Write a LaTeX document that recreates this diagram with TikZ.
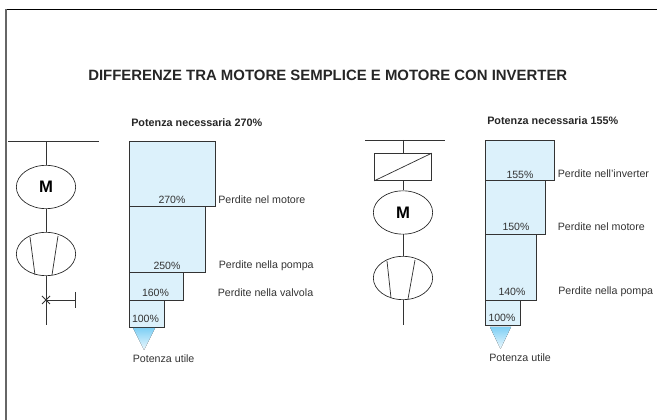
\documentclass[tikz,border=0pt]{standalone}
\usepackage{fontspec}
\setmainfont{Liberation Sans}
\usetikzlibrary{positioning,shapes.geometric}
\usepackage{xcolor}
\definecolor{boxfill}{HTML}{DCF1FB}
\definecolor{tipblue}{HTML}{7FD0F5}
\definecolor{inkgray}{HTML}{333333}

\begin{document}
\begin{tikzpicture}[%
            x=0.75pt, y=-0.75pt,
            lossbox/.style={draw=inkgray, fill=boxfill, line width=0.7pt, inner sep=0pt, anchor=north west},
            wire/.style={draw=inkgray, line width=0.55pt},
            machine/.style={ellipse, draw=black!85, line width=0.5pt, inner sep=0pt, minimum width=44.5pt, minimum height=32.5pt},
            lbl/.style={font=\fontsize{8}{10}\selectfont, text=inkgray, inner sep=0pt, anchor=west},
            pct/.style={font=\fontsize{7.9}{10}\selectfont, text=inkgray, inner sep=0pt},
            head/.style={font=\bfseries\fontsize{8.1}{10}\selectfont, text=black!85, inner sep=0pt, anchor=west},
            tip/.style={top color=tipblue, bottom color=boxfill!50, draw=none}
        ]
        \useasboundingbox (0,0) rectangle (657,420);

        % Outer frame
        \coordinate (framecorner) at (5.8,9.5);
        \coordinate (frametop) at (657,9.5);
        \coordinate (framebottom) at (5.8,420);
        \draw[black, line width=0.75pt] (framecorner) -- (frametop);
        \draw[black!60, line width=1.3pt] (framecorner) -- (framebottom);

        % Title
        \node[font=\bfseries\fontsize{11.2}{13}\selectfont, text=black!85, inner sep=0pt, anchor=west] (title) at (88,75) {DIFFERENZE TRA MOTORE SEMPLICE E MOTORE CON INVERTER};

        % Left schematic
        \coordinate (busLa) at (8,141.5);
        \coordinate (busLb) at (99,141.5);
        \coordinate (busLtap) at (46,141.5);
        \node[machine, font=\bfseries\fontsize{12.5}{14}\selectfont] (motorL) at (46,187) {M};
        \node[machine] (pumpL) at (46,254) {};
        \coordinate (pipeLend) at (46,325);
        \coordinate (valveL) at (46,300);
        \coordinate (valveLend) at (75,300);
        \coordinate (valveLup) at (75,292);
        \coordinate (valveLdown) at (75,308);
        \draw[wire] (busLa) -- (busLb);
        \draw[wire] (busLtap) -- (motorL);
        \draw[wire] (motorL) -- (pumpL);
        \draw[wire] (pumpL) -- (pipeLend);
        \draw[wire] (valveL) -- (valveLend);
        \draw[wire] (valveLup) -- (valveLdown);
        \draw[wire] (30,237) -- (35,275);
        \draw[wire] (58,236) -- (52,275);
        \draw[wire] (42,296) -- (50,304);
        \draw[wire] (42,304) -- (50,296);

        % Left stack
        \node[head] (needL) at (131,122.5) {Potenza necessaria 270\%};
        \node[lossbox, minimum width=64.5pt, minimum height=48.75pt] (boxLa) at (128.5,141.5) {};
        \node[lossbox, minimum width=57pt, minimum height=49.1pt] (boxLb) at (128.5,206.5) {};
        \node[lossbox, minimum width=40.9pt, minimum height=21pt] (boxLc) at (128.5,272) {};
        \node[lossbox, minimum width=26.25pt, minimum height=19.9pt] (boxLd) at (128.5,300) {};
        \node[pct] at (172,200) {270\%};
        \node[pct] at (167,266) {250\%};
        \node[pct] at (155.5,293) {160\%};
        \node[pct] at (145.5,319) {100\%};
        \node[lbl] at (218,200) {Perdite nel motore};
        \node[lbl] at (218.5,266) {Perdite nella pompa};
        \node[lbl] at (217.5,293) {Perdite nella valvola};
        \fill[tip] (133,328) -- (155,328) -- (144,350) -- cycle;
        \node[lbl] (usefulL) at (132.5,359) {Potenza utile};

        % Right schematic
        \coordinate (busRa) at (365,140);
        \coordinate (busRb) at (445,140);
        \coordinate (busRtap) at (403,140);
        \node[draw=inkgray, line width=0.6pt, inner sep=0pt, minimum width=42.75pt, minimum height=20.25pt] (inverter) at (403,167) {};
        \node[machine, font=\bfseries\fontsize{12.5}{14}\selectfont] (motorR) at (403,212.5) {M};
        \node[machine] (pumpR) at (403,278) {};
        \coordinate (pipeRend) at (403,325);
        \draw[wire] (busRa) -- (busRb);
        \draw[wire] (busRtap) -- (inverter);
        \draw[wire] (inverter.south west) -- (inverter.north east);
        \draw[wire] (inverter) -- (motorR);
        \draw[wire] (motorR) -- (pumpR);
        \draw[wire] (pumpR) -- (pipeRend);
        \draw[wire] (387,261) -- (391,298);
        \draw[wire] (415,260) -- (408,299);

        % Right stack
        \node[head] (needR) at (487,121) {Potenza necessaria 155\%};
        \node[lossbox, minimum width=52.1pt, minimum height=30pt] (boxRa) at (485,140.5) {};
        \node[lossbox, minimum width=45pt, minimum height=40.1pt] (boxRb) at (485,180.5) {};
        \node[lossbox, minimum width=37.9pt, minimum height=49.5pt] (boxRc) at (485,234) {};
        \node[lossbox, minimum width=26.25pt, minimum height=18.75pt] (boxRd) at (485,300) {};
        \node[pct] at (520,175) {155\%};
        \node[pct] at (516,227) {150\%};
        \node[pct] at (512,292) {140\%};
        \node[pct] at (502,318) {100\%};
        \node[lbl] at (557.5,174) {Perdite nell'inverter};
        \node[lbl] at (557.5,227) {Perdite nel motore};
        \node[lbl] at (558,292) {Perdite nella pompa};
        \fill[tip] (490,327) -- (511,327) -- (500.5,349) -- cycle;
        \node[lbl] (usefulR) at (489,358) {Potenza utile};

\end{tikzpicture}
\end{document}
